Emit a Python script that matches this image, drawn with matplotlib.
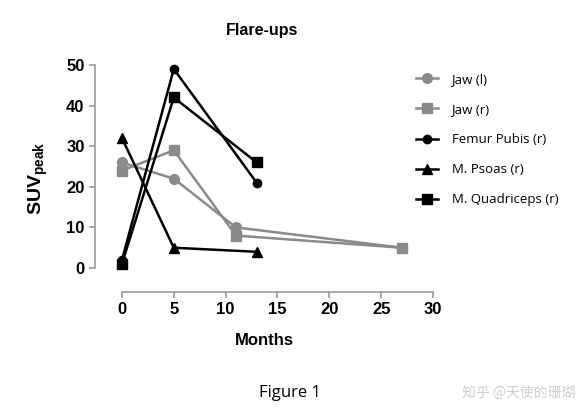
import numpy as np
import matplotlib.pyplot as plt

plt.rcParams['mathtext.fontset'] = 'custom'
plt.rcParams['mathtext.bf'] = 'Liberation Sans:bold'
plt.rcParams['mathtext.rm'] = 'Liberation Sans'

# values
months_jaw = [0, 5, 11, 27]
jaw_l = [26, 22, 10, 5]
jaw_r = [24, 29, 8, 5]

months_other = [0, 5, 13]
femur_pubis_r = [2, 49, 21]
psoas_r = [32, 5, 4]
quadriceps_r = [1, 42, 26]

x_ticks = [0, 5, 10, 15, 20, 25, 30]
y_ticks = [0, 10, 20, 30, 40, 50]

GREY = '#8a8a8a'
SPINE = '#9a9a9a'

fig = plt.figure(figsize=(5.88, 4.15), dpi=100)
ax = fig.add_axes([95 / 588, 123 / 415, 338 / 588, 227 / 415])

series = [
    (months_jaw, jaw_l, 'Jaw (l)', GREY, 'o'),
    (months_jaw, jaw_r, 'Jaw (r)', GREY, 's'),
    (months_other, femur_pubis_r, 'Femur Pubis (r)', 'black', 'o'),
    (months_other, psoas_r, 'M. Psoas (r)', 'black', '^'),
    (months_other, quadriceps_r, 'M. Quadriceps (r)', 'black', 's'),
]
for x, y, lab, col, mk in series:
    ms = 6 if mk == 'o' and col == 'black' else 7
    ax.plot(x, y, color=col, marker=mk, markersize=ms, linewidth=1.8,
            label=lab, clip_on=False)

ax.set_xlim(-2.6, 30)
ax.set_ylim(-5.9, 50)
ax.spines['top'].set_visible(False)
ax.spines['right'].set_visible(False)
ax.spines['left'].set_bounds(0, 50)
ax.spines['bottom'].set_bounds(0, 30)
for s in ('left', 'bottom'):
    ax.spines[s].set_color(SPINE)
    ax.spines[s].set_linewidth(1.2)
ax.set_xticks(x_ticks)
ax.set_yticks(y_ticks)
ax.tick_params(colors=SPINE, length=4, width=1.2, labelcolor='black')
for lbl in ax.get_xticklabels() + ax.get_yticklabels():
    lbl.set_family('Liberation Sans')
    lbl.set_fontweight('bold')
    lbl.set_fontsize(12)

ax.set_xlabel('Months', family='Liberation Sans', fontweight='bold',
              fontsize=12, labelpad=11)
ax.set_ylabel(r'$\mathbf{SUV_{peak}}$', fontsize=14, labelpad=12)
fig.text(262 / 588, 1 - 30 / 415, 'Flare-ups', ha='center', va='center',
         family='Liberation Sans', fontweight='bold', fontsize=11.5)

leg = fig.legend(loc='upper left', bbox_to_anchor=(404 / 588, 1 - 61 / 415),
                 frameon=False, handlelength=1.7, handletextpad=1.0,
                 labelspacing=1.3,
                 prop={'family': 'Open Sans', 'size': 9.5})

fig.text(290 / 588, 1 - 393 / 415, 'Figure 1', ha='center', va='center',
         family='Open Sans', fontsize=12)
fig.text(575 / 588, 1 - 393 / 415, '知乎 @天使的珊瑚', ha='right', va='center',
         family=['Noto Sans CJK SC', 'DejaVu Sans'], fontsize=10,
         color='#cfcfcf')

fig.savefig('out.png', dpi=100)
plt.close(fig)
